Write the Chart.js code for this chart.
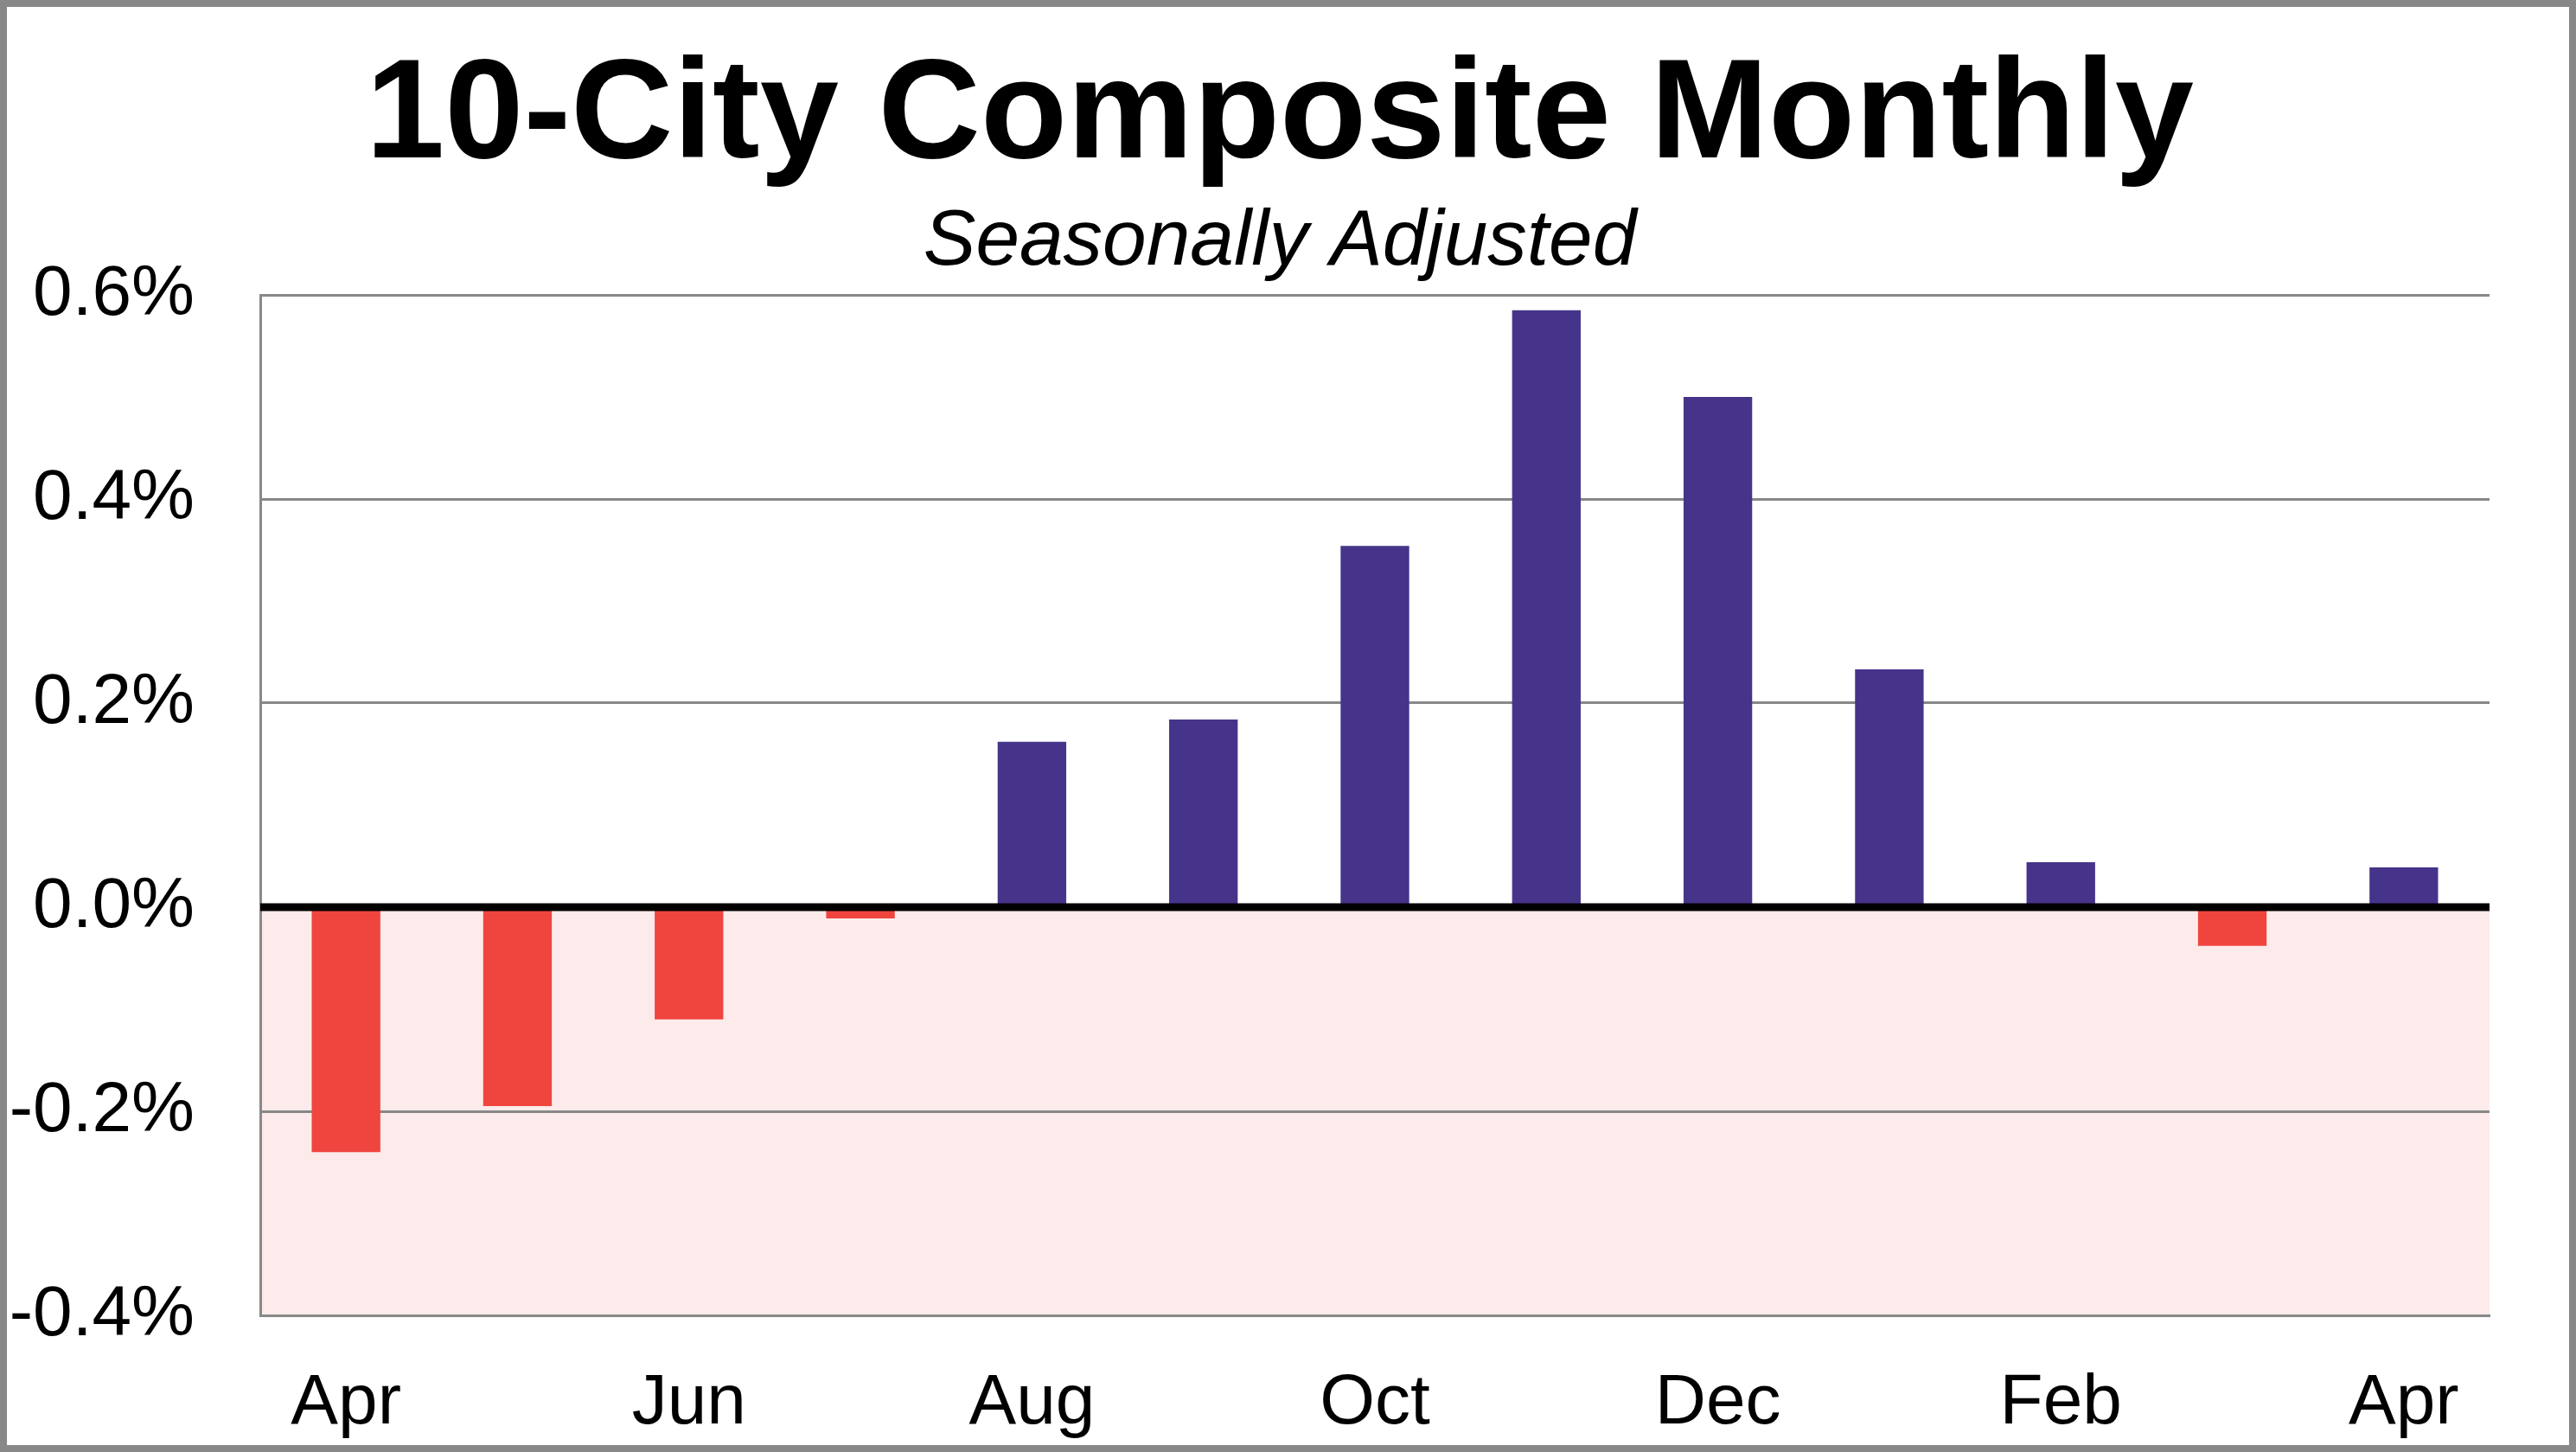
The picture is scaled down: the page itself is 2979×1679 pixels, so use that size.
<!DOCTYPE html>
<html>
<head>
<meta charset="utf-8">
<script src="https://cdn.jsdelivr.net/npm/chart.js@4.4.1/dist/chart.umd.min.js"></script>
<style>
	html, body { margin: 0; padding: 0; background: #fff; }
	#wrap { width: 2979px; height: 1679px; }
</style>
</head>
<body>
<div id="wrap"><canvas id="monthly"></canvas></div>
<script>
// monthly change, % (seasonally adjusted)
var months = ["Apr", "May", "Jun", "Jul", "Aug", "Sep", "Oct", "Nov", "Dec", "Jan", "Feb", "Mar", "Apr"];
var change = [-0.24, -0.195, -0.11, -0.011, 0.162, 0.184, 0.354, 0.585, 0.50, 0.233, 0.044, -0.038, 0.039];
var yTicks = [-0.4, -0.2, 0.0, 0.2, 0.4, 0.6];

var purple = "#46348A";
var red = "#F0453F";
var fontFam = "Liberation Sans, Arial, sans-serif";

var bgAndBorder = {
	id: "bgAndBorder",
	beforeDraw: function(chart) {
		var ctx = chart.ctx, a = chart.chartArea, y = chart.scales.y;
		var y0 = y.getPixelForValue(0);
		var yMin = y.getPixelForValue(yTicks[0]);
		ctx.save();
		ctx.fillStyle = "#FDEBEB";
		ctx.fillRect(a.left, y0, a.right - a.left, yMin - y0);
		ctx.restore();
	},
	afterDatasetsDraw: function(chart) {
		var ctx = chart.ctx, a = chart.chartArea;
		var y0 = chart.scales.y.getPixelForValue(0);
		ctx.save();
		ctx.strokeStyle = "#000";
		ctx.lineWidth = 9;
		ctx.beginPath();
		ctx.moveTo(a.left, y0);
		ctx.lineTo(a.right, y0);
		ctx.stroke();
		ctx.restore();
	},
	afterDraw: function(chart) {
		var ctx = chart.ctx;
		ctx.save();
		ctx.strokeStyle = "#888";
		ctx.lineWidth = 16;
		ctx.strokeRect(0, 0, chart.width, chart.height);
		ctx.restore();
	}
};

var ctx = document.getElementById("monthly");

var chart = new Chart(ctx, {
	type: "bar",
	data: {
		labels: months,
		datasets: [{
			label: "10-City Composite",
			data: change,
			backgroundColor: change.map(function(v) { return v < 0 ? red : purple; }),
			borderWidth: 0,
			barPercentage: 0.4,
			categoryPercentage: 1.0
		}]
	},
	plugins: [bgAndBorder],
	options: {
		responsive: true,
		maintainAspectRatio: false,
		animation: false,
		layout: { padding: { top: 0, left: 0, right: 19, bottom: 6.6 } },
		plugins: {
			legend: { display: false },
			tooltip: { enabled: false },
			title: {
				display: true,
				text: "10-City Composite Monthly",
				color: "#000",
				font: { family: fontFam, size: 164, weight: "bold", lineHeight: 1 },
				padding: { top: 54.5, bottom: 0 }
			},
			subtitle: {
				display: true,
				text: "Seasonally Adjusted",
				color: "#000",
				font: { family: fontFam, size: 91, style: "italic", lineHeight: 1 },
				padding: { top: 16.5, bottom: 15 }
			}
		},
		scales: {
			x: {
				afterFit: function(scale) { scale.height = 151.4; },
				grid: { display: false, drawTicks: false },
				border: { display: true, color: "#888", width: 3 },
				ticks: {
					autoSkip: false,
					maxRotation: 0,
					padding: 53,
					color: "#000",
					font: { family: fontFam, size: 82 },
					callback: function(val, i) { return i % 2 === 0 ? months[i] : ""; }
				}
			},
			y: {
				min: yTicks[0],
				max: yTicks[yTicks.length - 1],
				afterFit: function(scale) { scale.width = 301; },
				afterBuildTicks: function(scale) {
					scale.ticks = yTicks.map(function(v) { return { value: v }; });
				},
				grid: {
					drawTicks: false,
					color: "#888",
					lineWidth: 3
				},
				border: { display: true, color: "#888", width: 3 },
				ticks: {
					padding: 76,
					color: "#000",
					font: { family: fontFam, size: 82 },
					callback: function(v) { return v.toFixed(1) + "%"; }
				}
			},
			// empty right-hand space so the plot ends where the original does
			yRight: {
				position: "right",
				display: true,
				afterFit: function(scale) { scale.width = 81; },
				grid: { display: false, drawTicks: false },
				border: { display: false },
				ticks: { display: false }
			}
		}
	}
});
</script>
</body>
</html>
